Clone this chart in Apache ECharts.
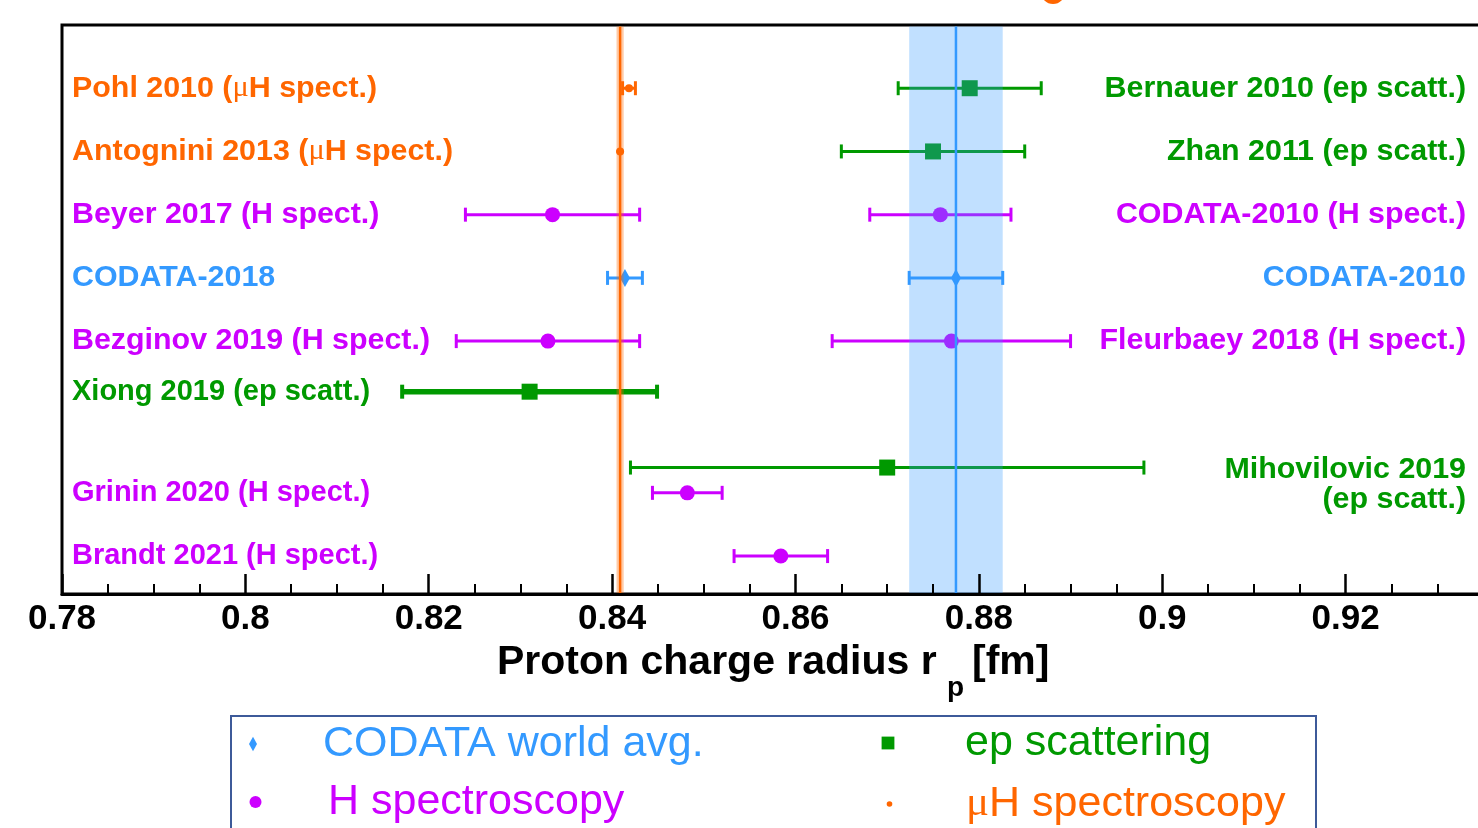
<!DOCTYPE html>
<html>
<head>
<meta charset="utf-8">
<script src="https://cdn.jsdelivr.net/npm/echarts@6/dist/echarts.min.js"></script>
<style>
  html, body { margin: 0; padding: 0; background: #fff; }
  #chart { width: 1478px; height: 828px; }
</style>
</head>
<body>
<div id="chart"></div>
<script>
const names = [
  'Pohl 2010 (μH spect.)', 'Antognini 2013 (μH spect.)', 'Beyer 2017 (H spect.)', 'CODATA-2018',
  'Bezginov 2019 (H spect.)', 'Xiong 2019 (ep scatt.)', 'Grinin 2020 (H spect.)', 'Brandt 2021 (H spect.)',
  'Bernauer 2010 (ep scatt.)', 'Zhan 2011 (ep scatt.)', 'CODATA-2010 (H spect.)', 'CODATA-2010',
  'Fleurbaey 2018 (H spect.)', 'Mihovilovic 2019\n(ep scatt.)'
]
const values = [0.84184, 0.84087, 0.8335, 0.8414, 0.8330, 0.8310, 0.8482, 0.8584,
  0.8790, 0.8750, 0.8758, 0.8775, 0.8770, 0.8700]
const errors = [0.0007, 0.00039, 0.0095, 0.0019, 0.0100, 0.0139, 0.0038, 0.0051,
  0.0078, 0.0100, 0.0077, 0.0051, 0.0130, 0.0280]
const rows = [1, 2, 3, 4, 5, 5.8, 7.4, 8.4, 1, 2, 3, 4, 5, 7]
const groups = ['muH', 'muH', 'H', 'CODATA', 'H', 'ep', 'H', 'H', 'ep', 'ep', 'H', 'CODATA', 'H', 'ep']
const sides = ['L', 'L', 'L', 'L', 'L', 'L', 'L', 'L', 'R', 'R', 'R', 'R', 'R', 'R']

const legendLabels = ['CODATA world avg.', 'H spectroscopy', 'ep scattering', 'μH spectroscopy']
const legendGroups = ['CODATA', 'H', 'ep', 'muH']

const xMin = 0.78
const xMax = 0.94
const xStep = 0.02
const rowMin = 0
const rowMax = 9

// bands: world averages
const blueBandRef = 'CODATA-2010'
const orangeBandRef = 'Antognini 2013 (μH spect.)'

const colors = { muH: '#ff6600', H: '#cc00ff', ep: '#009900', CODATA: '#3399ff' }
const markerSize = { muH: 4, H: 7.5, ep: 8, CODATA: 5 }
const thickBars = { 'Xiong 2019 (ep scatt.)': 5.5 }
const FONT = '"Liberation Sans", Arial, Helvetica, sans-serif'
const SERIF = '"Liberation Serif", "DejaVu Serif", serif'
const LABEL_SIZE = 30.4
// the lowest three labels are set a touch smaller in the original
const labelSizeOverride = {
  'Xiong 2019 (ep scatt.)': 29,
  'Grinin 2020 (H spect.)': 29,
  'Brandt 2021 (H spect.)': 29
}

const marker = (group, cx, cy, k, color) => {
  const s = markerSize[group] * k
  if (group === 'ep') {
    return { type: 'rect', shape: { x: cx - s, y: cy - s, width: 2 * s, height: 2 * s }, style: { fill: color } }
  }
  if (group === 'CODATA') {
    const h = s * 1.8
    return {
      type: 'polygon',
      shape: { points: [[cx, cy - h], [cx + s, cy], [cx, cy + h], [cx - s, cy]] },
      style: { fill: color }
    }
  }
  return { type: 'circle', shape: { cx, cy, r: s }, style: { fill: color } }
}

const richText = t => t.replace(/μ/g, '{mu|μ}')

const renderPoint = (params, api) => {
  const i = api.value(3)
  const v = api.value(0)
  const row = api.value(1)
  const err = api.value(2)
  const group = groups[i]
  const color = colors[group]
  const [cx, cy] = api.coord([v, row])
  const xl = api.coord([v - err, row])[0]
  const xr = api.coord([v + err, row])[0]
  const lw = thickBars[names[i]] || 3
  const children = [{
    type: 'line',
    shape: { x1: xl, y1: cy, x2: xr, y2: cy },
    style: { stroke: color, lineWidth: lw }
  }]
  if (xr - cx > markerSize[group] + 1) {
    const capW = lw > 3 ? 4 : 3
    children.push(
      { type: 'rect', shape: { x: xl - capW / 2, y: cy - 7, width: capW, height: 14 }, style: { fill: color } },
      { type: 'rect', shape: { x: xr - capW / 2, y: cy - 7, width: capW, height: 14 }, style: { fill: color } }
    )
  }
  children.push(marker(group, cx, cy, 1, color))

  const lineHeight = 30
  const nLines = names[i].split('\n').length
  const left = sides[i] === 'L'
  const size = labelSizeOverride[names[i]] || LABEL_SIZE
  children.push({
    type: 'text',
    style: {
      text: richText(names[i]),
      x: left ? 72 : 1466,
      y: cy + (nLines - 1) * (lineHeight / 2 + 2),
      align: left ? 'left' : 'right',
      verticalAlign: 'middle',
      fill: color,
      fontSize: size,
      fontWeight: 'bold',
      fontFamily: FONT,
      lineHeight,
      rich: {
        mu: { fontFamily: SERIF, fontWeight: 'normal', fontSize: size, fill: color, lineHeight }
      }
    }
  })
  return { type: 'group', children }
}

const renderBand = (fill, stroke, width) => (params, api) => {
  const a = api.coord([api.value(0), rowMin])
  const b = api.coord([api.value(1), rowMax])
  const c = api.coord([api.value(2), rowMin])[0]
  return {
    type: 'group',
    children: [
      { type: 'rect', shape: { x: a[0], y: a[1] + 1.5, width: b[0] - a[0], height: b[1] - a[1] - 1.5 }, style: { fill } },
      { type: 'line', shape: { x1: c, y1: a[1] + 1.5, x2: c, y2: b[1] }, style: { stroke, lineWidth: width } }
    ]
  }
}

const bandData = ref => {
  const i = names.indexOf(ref)
  return [[values[i] - errors[i], values[i] + errors[i], values[i]]]
}

const pointData = values.map((v, i) => [v, rows[i], errors[i], i])

// legend drawn as graphic elements (2x2 layout with wide marker gaps)
const legendPos = [[253, 744, 323], [255.5, 802, 328], [888, 743, 965], [889.5, 804, 966]]
const legendGraphics = [{
  type: 'rect',
  shape: { x: 231, y: 716, width: 1085, height: 140 },
  style: { fill: 'none', stroke: '#3d5a99', lineWidth: 2 }
}]
legendLabels.forEach((label, i) => {
  const [mx, my, tx] = legendPos[i]
  const color = colors[legendGroups[i]]
  legendGraphics.push(marker(legendGroups[i], mx, my, legendGroups[i] === 'muH' ? 0.7 : 0.8, color))
  legendGraphics.push({
    type: 'text',
    style: {
      text: richText(label),
      x: tx,
      y: my,
      verticalAlign: 'middle',
      fill: color,
      fontSize: 43,
      fontFamily: FONT,
      rich: { mu: { fontFamily: SERIF, fontSize: 43, fill: color } }
    }
  })
})

const option = {
  animation: false,
  backgroundColor: '#fff',
  grid: {
    left: 62, top: 25, right: -51, bottom: 234,
    containLabel: false,
    outerBoundsMode: 'none',
    show: true,
    borderColor: '#000',
    borderWidth: 3,
    backgroundColor: 'transparent'
  },
  xAxis: {
    type: 'value',
    min: xMin,
    max: xMax,
    interval: xStep,
    z: 10,
    axisLine: { show: true, onZero: false, lineStyle: { color: '#000', width: 3 } },
    axisTick: { show: true, inside: true, length: 20, lineStyle: { color: '#000', width: 2.5 } },
    minorTick: { show: true, splitNumber: 4, length: 10, lineStyle: { color: '#000', width: 2 } },
    splitLine: { show: false },
    axisLabel: {
      margin: 8,
      color: '#000',
      fontSize: 35,
      fontWeight: 'bold',
      fontFamily: FONT
    }
  },
  yAxis: {
    type: 'value',
    min: rowMin,
    max: rowMax,
    inverse: true,
    axisLine: { show: false },
    axisTick: { show: false },
    axisLabel: { show: false },
    splitLine: { show: false }
  },
  series: [
    {
      type: 'custom',
      z: 2,
      silent: true,
      data: pointData,
      encode: { x: 0, y: 1 },
      renderItem: renderPoint
    },
    {
      type: 'custom',
      z: 3,
      silent: true,
      data: bandData(blueBandRef),
      encode: { x: [0, 1, 2] },
      renderItem: renderBand('rgba(51,153,255,0.3)', '#3399ff', 2.5)
    },
    {
      type: 'custom',
      z: 4,
      silent: true,
      data: bandData(orangeBandRef),
      encode: { x: [0, 1, 2] },
      renderItem: renderBand('rgba(255,102,0,0.35)', '#ff6600', 2.5)
    }
  ],
  graphic: [
    // fragment of the cropped title above the frame
    { type: 'circle', shape: { cx: 1053, cy: -8, r: 12 }, style: { fill: '#ff6600' } },
    {
      type: 'text',
      style: { text: 'Proton charge radius r', x: 497, y: 663, verticalAlign: 'middle', fill: '#000', fontSize: 41, fontWeight: 'bold', fontFamily: FONT }
    },
    {
      type: 'text',
      style: { text: 'p', x: 947, y: 688, verticalAlign: 'middle', fill: '#000', fontSize: 28, fontWeight: 'bold', fontFamily: FONT }
    },
    {
      type: 'text',
      style: { text: '[fm]', x: 972, y: 663, verticalAlign: 'middle', fill: '#000', fontSize: 41, fontWeight: 'bold', fontFamily: FONT }
    },
    ...legendGraphics
  ]
}

const chart = echarts.init(document.getElementById('chart'), null, { renderer: 'canvas' })
chart.setOption(option)
</script>
</body>
</html>
